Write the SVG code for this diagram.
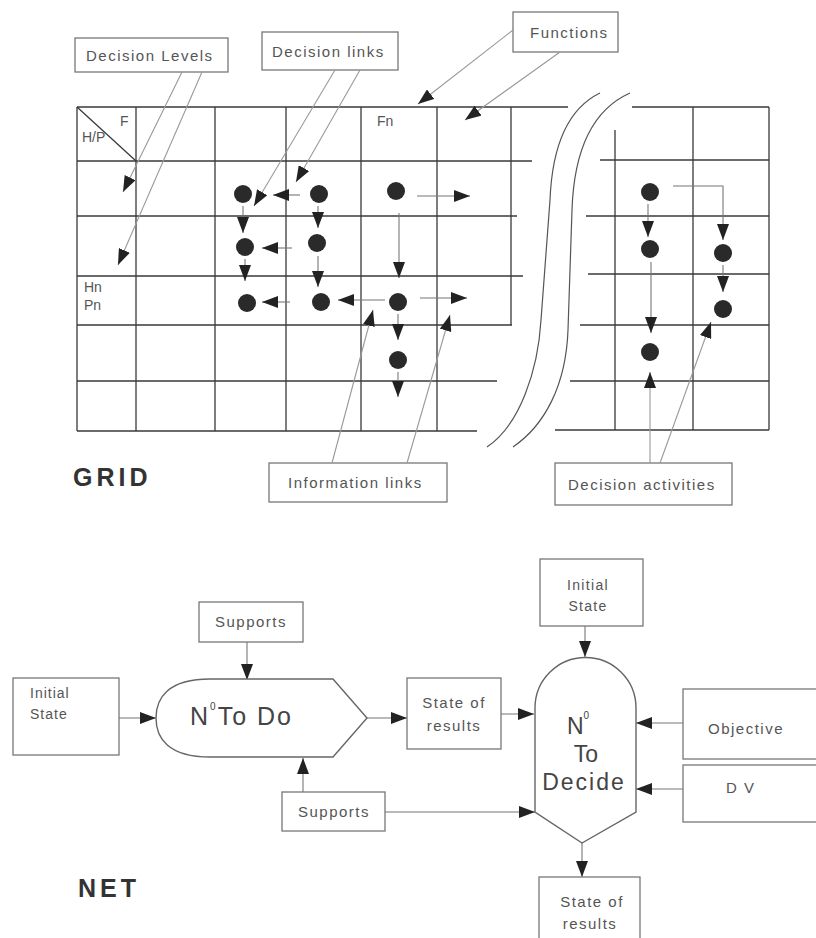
<svg xmlns="http://www.w3.org/2000/svg" width="816" height="938" viewBox="0 0 816 938">
<style>
.bg{fill:#fff}
.grid{stroke:#3a3a3a;stroke-width:1.3;fill:none}
.brk{stroke:#555;stroke-width:1.2;fill:none}
.box{fill:#fff;stroke:#777;stroke-width:1.3}
.lbl{font-family:"Liberation Sans",Arial,sans-serif;font-size:15px;letter-spacing:1.5px;fill:#555}
.sm{font-family:"Liberation Sans",Arial,sans-serif;font-size:14px;fill:#555}
.big{font-family:"Liberation Sans",Arial,sans-serif;font-size:25px;fill:#444}
.dec{font-family:"Liberation Sans",Arial,sans-serif;font-size:23px;fill:#444}
.title{font-family:"Liberation Sans",Arial,sans-serif;font-size:25px;font-weight:bold;letter-spacing:4px;fill:#333}
.dot{fill:#2a2a2a}
.ar{stroke:#777;stroke-width:1.1;fill:none;marker-end:url(#ah)}
.ld{stroke:#999;stroke-width:1.1;fill:none;marker-end:url(#ah)}
.shape{fill:#fff;stroke:#666;stroke-width:1.4}
</style>
<defs>
<marker id="ah" viewBox="0 0 16 12" refX="16" refY="6" markerWidth="16" markerHeight="12" markerUnits="userSpaceOnUse" orient="auto">
<path d="M0,0 L16,6 L0,12 z" fill="#222"/>
</marker>
</defs>
<rect class="bg" x="0" y="0" width="816" height="938"/>

<g id="grid">
<path class="grid" d="M77,107 H568 M77,161 H532 M77,216 H517 M77,276 H523 M77,325 H512 M77,381 H497 M77,431 H477"/>
<path class="grid" d="M77,107 V431 M136,107 V431 M215,107 V431 M286,107 V431 M361,107 V431 M437,107 V431 M511,107 V325"/>
<path class="grid" d="M77,107 L136,161"/>
<path class="grid" d="M632,107 H769 M600,160 H769 M586,216 H769 M588,274 H769 M580,325 H769 M570,381 H769 M555,430 H769"/>
<path class="grid" d="M615,130 V430 M693,107 V430 M769,107 V430"/>
<path class="brk" d="M600,93 C565,110 552,150 550,200 L541,320 C538,370 520,425 487,447"/>
<path class="brk" d="M630,93 C592,110 574,150 572,210 L568,330 C566,385 545,425 513,447"/>
<text class="sm" x="120" y="126">F</text>
<text class="sm" x="82" y="142">H/P</text>
<text class="sm" x="377" y="126">Fn</text>
<text class="sm" x="84" y="292">Hn</text>
<text class="sm" x="84" y="310">Pn</text>
</g>

<g id="dots">
<circle class="dot" cx="243" cy="194" r="9"/>
<circle class="dot" cx="245" cy="247" r="9"/>
<circle class="dot" cx="247" cy="303" r="9"/>
<circle class="dot" cx="319" cy="194" r="9"/>
<circle class="dot" cx="317" cy="243" r="9"/>
<circle class="dot" cx="321" cy="302" r="9"/>
<circle class="dot" cx="396" cy="191" r="9"/>
<circle class="dot" cx="398" cy="302" r="9"/>
<circle class="dot" cx="398" cy="360" r="9"/>
<circle class="dot" cx="650" cy="192" r="9"/>
<circle class="dot" cx="650" cy="249" r="9"/>
<circle class="dot" cx="650" cy="352" r="9"/>
<circle class="dot" cx="723" cy="253" r="9"/>
<circle class="dot" cx="723" cy="309" r="9"/>
</g>

<g id="labels-grid">
<g id="decision-levels"><rect class="box" x="75" y="38" width="153" height="34"/><text class="lbl" x="86" y="61">Decision Levels</text></g>
<g id="decision-links"><rect class="box" x="262" y="32" width="136" height="38"/><text class="lbl" x="272" y="57">Decision links</text></g>
<g id="functions"><rect class="box" x="513" y="12" width="105" height="40"/><text class="lbl" x="530" y="38">Functions</text></g>
<g id="information-links"><rect class="box" x="269" y="463" width="178" height="39"/><text class="lbl" x="288" y="488">Information links</text></g>
<g id="decision-activities"><rect class="box" x="555" y="463" width="177" height="42"/><text class="lbl" x="568" y="490">Decision activities</text></g>
<text class="title" x="73" y="486">GRID</text>
</g>

<g id="connectors">
<path class="ar" d="M243,206 V233"/>
<path class="ar" d="M245,259 V281"/>
<path class="ar" d="M318,206 V228"/>
<path class="ar" d="M318,256 V287"/>
<path class="ar" d="M300,195 H273"/>
<path class="ar" d="M292,248 H262"/>
<path class="ar" d="M290,302 H262"/>
<path class="ar" d="M385,300 H338"/>
<path class="ar" d="M420,298 H467"/>
<path class="ar" d="M417,196 H470"/>
<path class="ar" d="M399,213 V278"/>
<path class="ar" d="M398,314 V340"/>
<path class="ar" d="M398,372 V397"/>
<path class="ar" d="M648,204 V237"/>
<path class="ar" d="M673,186 H723 V240"/>
<path class="ar" d="M723,265 V292"/>
<path class="ar" d="M651,262 V333"/>
<path class="ld" d="M182,72 L123,192"/>
<path class="ld" d="M202,72 L118,265"/>
<path class="ld" d="M335,70 L254,206"/>
<path class="ld" d="M360,70 L296,182"/>
<path class="ld" d="M513,30 L418,104"/>
<path class="ld" d="M560,52 L465,120"/>
<path class="ld" d="M332,463 L373,310"/>
<path class="ld" d="M407,463 L450,315"/>
<path class="ld" d="M650,463 V372"/>
<path class="ld" d="M660,463 L711,322"/>
<path class="ar" d="M247,642 V680"/>
<path class="ar" d="M119,718 H156"/>
<path class="ar" d="M367,718 H407"/>
<path class="ar" d="M501,714 H534"/>
<path class="ar" d="M585,626 V657"/>
<path class="ar" d="M683,723 H636"/>
<path class="ar" d="M683,789 H636"/>
<path class="ar" d="M303,792 V758"/>
<path class="ar" d="M385,812 H535"/>
<path class="ar" d="M582,843 V877"/>
</g>

<g id="supports-top"><rect class="box" x="199" y="602" width="104" height="40"/><text class="lbl" x="251" y="627" text-anchor="middle">Supports</text></g>
<g id="initial-state-left"><rect class="box" x="13" y="678" width="106" height="77"/><text class="sm" x="30" y="698" letter-spacing="1">Initial</text><text class="sm" x="30" y="719" letter-spacing="1">State</text></g>
<g id="to-do"><path class="shape" d="M210,679 H333 L367,718 L333,757 H210 C168,757 156,738 156,718 C156,698 168,679 210,679 Z"/><text class="big" x="190" y="725" letter-spacing="2">N<tspan font-size="10" dy="-15">0</tspan><tspan dy="15">To Do</tspan></text></g>
<g id="state-results-mid"><rect class="box" x="407" y="678" width="94" height="71"/><text class="lbl" x="454" y="708" text-anchor="middle">State of</text><text class="lbl" x="454" y="731" text-anchor="middle">results</text></g>
<g id="initial-state-top"><rect class="box" x="540" y="559" width="103" height="67"/><text class="sm" x="588" y="590" text-anchor="middle" letter-spacing="1.3">Initial</text><text class="sm" x="588" y="611" text-anchor="middle" letter-spacing="1.3">State</text></g>
<g id="to-decide"><path class="shape" d="M535,708 A50.5,50.5 0 0 1 636,708 V812 L582,843 L535,812 Z"/><text class="dec" x="578" y="734" text-anchor="middle">N<tspan font-size="10" dy="-15">0</tspan></text><text class="dec" x="586" y="762" text-anchor="middle">To</text><text class="dec" x="584" y="790" text-anchor="middle" letter-spacing="2">Decide</text></g>
<g id="objective"><rect class="box" x="683" y="689" width="140" height="70"/><text class="lbl" x="708" y="734">Objective</text></g>
<g id="dv"><rect class="box" x="683" y="765" width="140" height="57"/><text class="lbl" x="726" y="793">D V</text></g>
<g id="supports-bottom"><rect class="box" x="282" y="792" width="103" height="39"/><text class="lbl" x="334" y="817" text-anchor="middle">Supports</text></g>
<g id="state-results-bottom"><rect class="box" x="539" y="877" width="101" height="70"/><text class="lbl" x="592" y="907" text-anchor="middle">State of</text><text class="lbl" x="590" y="929" text-anchor="middle">results</text></g>
<text class="title" x="78" y="897" letter-spacing="3">NET</text>
</svg>
